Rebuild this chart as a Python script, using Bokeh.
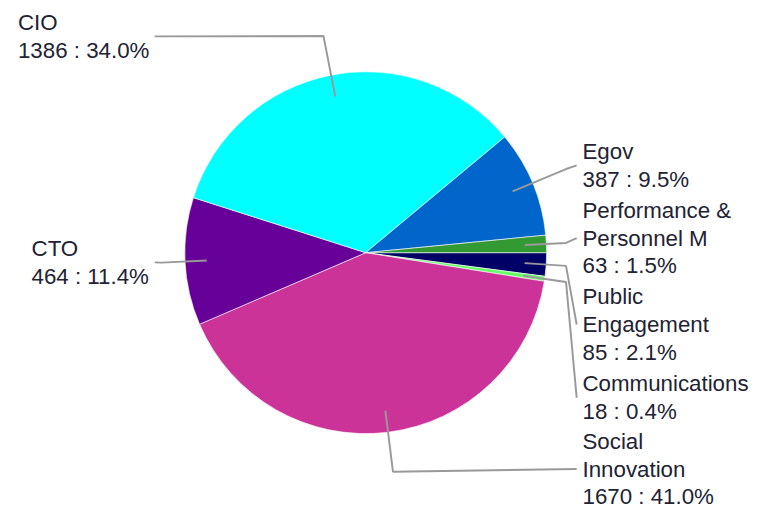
import math
from bokeh.plotting import figure
from bokeh.models import Range1d
from bokeh.core.properties import value
from bokeh.embed import file_html
from bokeh.resources import INLINE

# ---- data (in drawing order, clockwise from 3 o'clock) ----
categories = ["Public Engagement", "Communications", "Social Innovation", "CTO",
              "CIO", "Egov", "Performance & Personnel M"]
label_lines = [["Public", "Engagement"], ["Communications"], ["Social", "Innovation"],
               ["CTO"], ["CIO"], ["Egov"], ["Performance &", "Personnel M"]]
values = [85, 18, 1670, 464, 1386, 387, 63]
colors = ["#000066", "#66FF66", "#CC3399", "#660099", "#00FFFF", "#0066CC", "#339933"]

# ---- layout (in chart units, y measured downward) ----
W, H = 755, 509
S = 0.97                      # pixels per chart unit
X0, Y0 = -6.0, 1.0            # chart units shown at the canvas top-left
CX, CY, R = 370.5, 261.0, 186.5
# label block: (side, text x, block middle y)
label_layout = [("R", 594, 335), ("R", 594, 410.5), ("R", 594, 484),
                ("L", 26, 271), ("L", 12, 38), ("R", 594, 171), ("R", 594, 246)]
LINE_H = 28.5
ELBOW_MAX_R, ELBOW_MIN_L = 577, 160
END_R, END_L = 588, 153
FONT_PX = 23 * S

def sy(y):
    return -y

p = figure(width=W, height=H, output_backend="svg", toolbar_location=None,
           x_range=Range1d(X0, X0 + W / S), y_range=Range1d(sy(Y0 + H / S), sy(Y0)),
           min_border=0, outline_line_color=None)
p.axis.visible = False
p.grid.visible = False
p.background_fill_color = "white"
p.border_fill_color = "white"

total = sum(values)
cum = 0.0
starts, ends, mids = [], [], []
for v in values:
    a0 = cum / total * 2 * math.pi
    cum += v
    a1 = cum / total * 2 * math.pi
    # clockwise on screen => negative math angles
    starts.append(-a1)
    ends.append(-a0)
    mids.append(-(a0 + a1) / 2)

p.wedge(x=[CX] * len(values), y=[sy(CY)] * len(values), radius=R,
        start_angle=starts, end_angle=ends, direction="anticlock",
        fill_color=colors, line_color="white", line_width=0.6)

# leader lines
for i, m in enumerate(mids):
    side, tx, my = label_layout[i]
    c, s = math.cos(m), math.sin(m)
    x0, y0 = CX + 0.88 * R * c, CY - 0.88 * R * s
    ex, ey = CX + 1.22 * R * c, CY - 1.22 * R * s
    if side == "R" and ex > ELBOW_MAX_R:
        t = (ELBOW_MAX_R - CX) / c
        ex, ey = ELBOW_MAX_R, CY - t * s
    if side == "L" and ex < ELBOW_MIN_L:
        t = (ELBOW_MIN_L - CX) / c
        ex, ey = ELBOW_MIN_L, CY - t * s
    endx = END_R if side == "R" else END_L
    p.line(x=[x0, ex, endx], y=[sy(y0), sy(ey), sy(my)],
           line_color="#999999", line_width=2 * S)

# labels
for i, v in enumerate(values):
    side, tx, my = label_layout[i]
    lines = label_lines[i] + [f"{v} : {v / total * 100:.1f}%"]
    n = len(lines)
    ys = [my + (k - (n - 1) / 2) * LINE_H for k in range(n)]
    p.text(x=[tx] * n, y=[sy(y) for y in ys], text=lines,
           text_font=value("Liberation Sans"), text_font_size=f"{FONT_PX:.1f}px",
           text_color="#222233", text_align="left", text_baseline="middle")

open("out.html", "w").write(file_html(p, INLINE))
